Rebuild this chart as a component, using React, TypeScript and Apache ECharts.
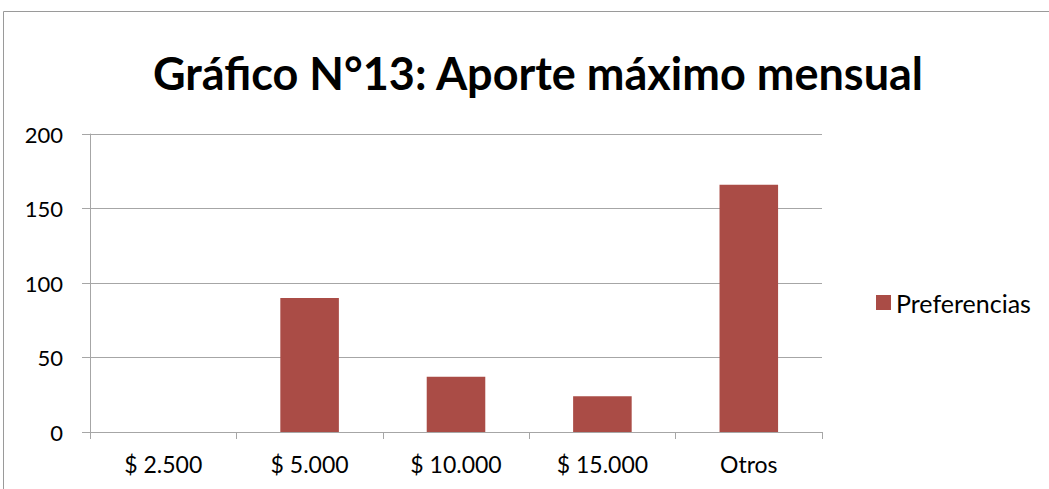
import React, { useEffect, useRef } from "react";
import * as echarts from "echarts";

const titleText = "Gráfico N°13: Aporte máximo mensual";
const categories = ["$ 2.500", "$ 5.000", "$ 10.000", "$ 15.000", "Otros"];
const seriesName = "Preferencias";
const values = [0, 90, 37, 24, 166];
const yTicks = { min: 0, max: 200, interval: 50 };

const FONT = "Lato";
const GRAY = "#A6A6A6";

export default function App() {
  const ref = useRef<HTMLDivElement>(null);
  useEffect(() => {
    if (!ref.current) return;
    const chart = echarts.init(ref.current, null, { renderer: "svg" });
    chart.setOption({
      animation: false,
      backgroundColor: "#ffffff",
      title: {
        text: titleText,
        left: 533,
        textAlign: "center",
        top: 45,
        textStyle: { fontFamily: FONT, fontWeight: "bold", fontSize: 45, color: "#000" },
      },
      graphic: [
        {
          type: "rect",
          shape: { x: 3.5, y: 11.5, width: 1200, height: 700 },
          style: { fill: "none", stroke: "#9a9a9a", lineWidth: 1 },
          silent: true,
        },
      ],
      legend: {
        data: [seriesName],
        left: 871,
        top: 285,
        icon: "rect",
        itemWidth: 15,
        itemHeight: 15,
        itemGap: 6,
        textStyle: { fontFamily: FONT, fontSize: 25, color: "#000", padding: [0, 0, 0, 0] },
      },
      grid: { left: 90, right: 227, top: 134, bottom: 57, containLabel: false },
      xAxis: {
        type: "category",
        data: categories,
        axisLine: { lineStyle: { color: GRAY, width: 1 } },
        axisTick: { show: true, length: 7, lineStyle: { color: GRAY }, alignWithLabel: false },
        axisLabel: { fontFamily: FONT, fontSize: 23, color: "#000", margin: 20 },
        splitLine: { show: false },
      },
      yAxis: {
        type: "value",
        min: yTicks.min,
        max: yTicks.max,
        interval: yTicks.interval,
        axisLine: { show: true, lineStyle: { color: GRAY, width: 1 } },
        axisTick: { show: true, length: 8, lineStyle: { color: GRAY } },
        axisLabel: { fontFamily: FONT, fontSize: 22, color: "#000", margin: 27 },
        splitLine: { show: true, lineStyle: { color: GRAY, width: 1 } },
      },
      series: [
        {
          name: seriesName,
          type: "bar",
          data: values,
          barWidth: "40%",
          itemStyle: { color: "#AA4C46" },
        },
      ],
    });
    return () => chart.dispose();
  }, []);
  return (
    <div
      ref={ref}
      style={{ position: "fixed", left: 0, top: 0, width: 1049, height: 489 }}
    />
  );
}
